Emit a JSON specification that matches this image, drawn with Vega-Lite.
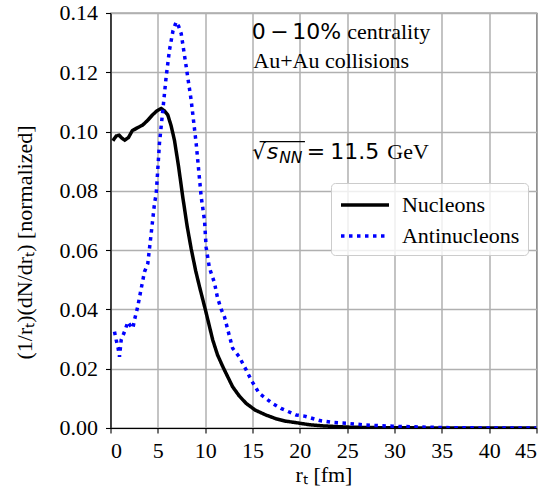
{
  "$schema": "https://vega.github.io/schema/vega-lite/v6.json",
  "width": 426,
  "height": 415,
  "autosize": {"type": "none"},
  "padding": {"left": 110.5, "top": 13, "right": 15.5, "bottom": 62.7},
  "config": {
    "font": "Liberation Serif",
    "view": {"stroke": "black", "strokeWidth": 1.2},
    "axis": {
      "labelFont": "Liberation Serif",
      "labelFontSize": 22,
      "labelColor": "black",
      "titleFont": "Liberation Serif",
      "titleFontSize": 22,
      "titleFontWeight": "normal",
      "titleColor": "black",
      "grid": true,
      "gridColor": "#b0b0b0",
      "gridWidth": 1.5,
      "domainColor": "black",
      "domainWidth": 1.2,
      "tickColor": "black",
      "tickSize": 5,
      "tickWidth": 1.1
    },
    "legend": {
      "labelFont": "Liberation Serif",
      "labelFontSize": 22,
      "labelColor": "black"
    }
  },
  "data": {
    "values": [
      {"r": 0.25, "v": 0.0969, "s": "Nucleons"},
      {"r": 0.6, "v": 0.0985, "s": "Nucleons"},
      {"r": 0.9, "v": 0.0988, "s": "Nucleons"},
      {"r": 1.2, "v": 0.0978, "s": "Nucleons"},
      {"r": 1.5, "v": 0.0971, "s": "Nucleons"},
      {"r": 1.9, "v": 0.098, "s": "Nucleons"},
      {"r": 2.3, "v": 0.1003, "s": "Nucleons"},
      {"r": 2.8, "v": 0.1012, "s": "Nucleons"},
      {"r": 3.4, "v": 0.1022, "s": "Nucleons"},
      {"r": 3.9, "v": 0.1037, "s": "Nucleons"},
      {"r": 4.4, "v": 0.1055, "s": "Nucleons"},
      {"r": 4.9, "v": 0.107, "s": "Nucleons"},
      {"r": 5.35, "v": 0.1078, "s": "Nucleons"},
      {"r": 5.7, "v": 0.107, "s": "Nucleons"},
      {"r": 6.05, "v": 0.1056, "s": "Nucleons"},
      {"r": 6.4, "v": 0.102, "s": "Nucleons"},
      {"r": 6.76, "v": 0.097, "s": "Nucleons"},
      {"r": 7.2, "v": 0.088, "s": "Nucleons"},
      {"r": 7.63, "v": 0.078, "s": "Nucleons"},
      {"r": 8.1, "v": 0.068, "s": "Nucleons"},
      {"r": 8.52, "v": 0.0605, "s": "Nucleons"},
      {"r": 9.0, "v": 0.053, "s": "Nucleons"},
      {"r": 9.4, "v": 0.0477, "s": "Nucleons"},
      {"r": 10.03, "v": 0.0398, "s": "Nucleons"},
      {"r": 10.8, "v": 0.0297, "s": "Nucleons"},
      {"r": 11.3, "v": 0.0247, "s": "Nucleons"},
      {"r": 11.86, "v": 0.0207, "s": "Nucleons"},
      {"r": 12.9, "v": 0.0139, "s": "Nucleons"},
      {"r": 13.6, "v": 0.0108, "s": "Nucleons"},
      {"r": 14.33, "v": 0.0083, "s": "Nucleons"},
      {"r": 15.3, "v": 0.006, "s": "Nucleons"},
      {"r": 16.4, "v": 0.0044, "s": "Nucleons"},
      {"r": 17.5, "v": 0.0031, "s": "Nucleons"},
      {"r": 18.5, "v": 0.0023, "s": "Nucleons"},
      {"r": 19.6, "v": 0.0018, "s": "Nucleons"},
      {"r": 21, "v": 0.0011, "s": "Nucleons"},
      {"r": 22.5, "v": 0.0007, "s": "Nucleons"},
      {"r": 25, "v": 0.0003, "s": "Nucleons"},
      {"r": 28, "v": 0.00012, "s": "Nucleons"},
      {"r": 32, "v": 0.00004, "s": "Nucleons"},
      {"r": 36, "v": 0.00001, "s": "Nucleons"},
      {"r": 40, "v": 0, "s": "Nucleons"},
      {"r": 45, "v": 0, "s": "Nucleons"},
      {"r": 0.42, "v": 0.0325, "s": "Antinucleons"},
      {"r": 0.6, "v": 0.0297, "s": "Antinucleons"},
      {"r": 0.8, "v": 0.027, "s": "Antinucleons"},
      {"r": 0.95, "v": 0.024, "s": "Antinucleons"},
      {"r": 1.13, "v": 0.0297, "s": "Antinucleons"},
      {"r": 1.48, "v": 0.0325, "s": "Antinucleons"},
      {"r": 1.83, "v": 0.0358, "s": "Antinucleons"},
      {"r": 2.1, "v": 0.0345, "s": "Antinucleons"},
      {"r": 2.36, "v": 0.0336, "s": "Antinucleons"},
      {"r": 2.53, "v": 0.0364, "s": "Antinucleons"},
      {"r": 2.88, "v": 0.041, "s": "Antinucleons"},
      {"r": 3.24, "v": 0.047, "s": "Antinucleons"},
      {"r": 3.59, "v": 0.0527, "s": "Antinucleons"},
      {"r": 3.94, "v": 0.0555, "s": "Antinucleons"},
      {"r": 4.3, "v": 0.0657, "s": "Antinucleons"},
      {"r": 4.65, "v": 0.0758, "s": "Antinucleons"},
      {"r": 4.83, "v": 0.079, "s": "Antinucleons"},
      {"r": 5.17, "v": 0.096, "s": "Antinucleons"},
      {"r": 5.52, "v": 0.107, "s": "Antinucleons"},
      {"r": 5.88, "v": 0.1185, "s": "Antinucleons"},
      {"r": 6.23, "v": 0.1275, "s": "Antinucleons"},
      {"r": 6.6, "v": 0.134, "s": "Antinucleons"},
      {"r": 6.94, "v": 0.137, "s": "Antinucleons"},
      {"r": 7.2, "v": 0.1355, "s": "Antinucleons"},
      {"r": 7.47, "v": 0.133, "s": "Antinucleons"},
      {"r": 7.99, "v": 0.122, "s": "Antinucleons"},
      {"r": 8.52, "v": 0.1106, "s": "Antinucleons"},
      {"r": 9.05, "v": 0.096, "s": "Antinucleons"},
      {"r": 9.58, "v": 0.078, "s": "Antinucleons"},
      {"r": 9.93, "v": 0.07, "s": "Antinucleons"},
      {"r": 10.1, "v": 0.061, "s": "Antinucleons"},
      {"r": 10.45, "v": 0.054, "s": "Antinucleons"},
      {"r": 10.98, "v": 0.049, "s": "Antinucleons"},
      {"r": 11.3, "v": 0.044, "s": "Antinucleons"},
      {"r": 11.7, "v": 0.04, "s": "Antinucleons"},
      {"r": 12.04, "v": 0.0375, "s": "Antinucleons"},
      {"r": 12.4, "v": 0.033, "s": "Antinucleons"},
      {"r": 12.9, "v": 0.0269, "s": "Antinucleons"},
      {"r": 13.6, "v": 0.024, "s": "Antinucleons"},
      {"r": 14.33, "v": 0.0196, "s": "Antinucleons"},
      {"r": 14.86, "v": 0.0162, "s": "Antinucleons"},
      {"r": 15.7, "v": 0.0117, "s": "Antinucleons"},
      {"r": 17.1, "v": 0.0083, "s": "Antinucleons"},
      {"r": 18.0, "v": 0.0066, "s": "Antinucleons"},
      {"r": 19.6, "v": 0.0044, "s": "Antinucleons"},
      {"r": 20.5, "v": 0.004, "s": "Antinucleons"},
      {"r": 22.1, "v": 0.0025, "s": "Antinucleons"},
      {"r": 23.4, "v": 0.0019, "s": "Antinucleons"},
      {"r": 24.9, "v": 0.0016, "s": "Antinucleons"},
      {"r": 27, "v": 0.001, "s": "Antinucleons"},
      {"r": 29.8, "v": 0.0006, "s": "Antinucleons"},
      {"r": 33, "v": 0.0003, "s": "Antinucleons"},
      {"r": 36, "v": 0.0001, "s": "Antinucleons"},
      {"r": 40, "v": 0, "s": "Antinucleons"},
      {"r": 45, "v": 0, "s": "Antinucleons"}
    ]
  },
  "layer": [
    {
      "mark": {"type": "line", "strokeWidth": 3.5, "strokeCap": "butt", "clip": true},
      "encoding": {
        "x": {
          "field": "r", "type": "quantitative",
          "scale": {"domain": [0, 45], "nice": false},
          "axis": {"values": [0, 5, 10, 15, 20, 25, 30, 35, 40, 45], "title": "rₜ [fm]", "labelPadding": 8, "titlePadding": 3}
        },
        "y": {
          "field": "v", "type": "quantitative",
          "scale": {"domain": [0, 0.14], "nice": false},
          "axis": {"values": [0, 0.02, 0.04, 0.06, 0.08, 0.1, 0.12, 0.14], "format": ".2f", "title": "(1/rₜ)(dN/drₜ) [normalized]", "labelPadding": 8, "titlePadding": 23, "titleY": 229}
        },
        "color": {
          "field": "s", "type": "nominal",
          "scale": {"domain": ["Nucleons", "Antinucleons"], "range": ["black", "blue"]},
          "legend": {
            "title": null,
            "orient": "none",
            "legendX": 220.5,
            "legendY": 170,
            "symbolType": "M-1,0H3",
            "symbolSize": 576,
            "symbolStrokeWidth": 3.5,
            "labelOffset": 35,
            "padding": 8,
            "rowPadding": 6,
            "fillColor": "rgba(255,255,255,0.8)",
            "strokeColor": "#cccccc",
            "cornerRadius": 4
          }
        },
        "strokeDash": {
          "field": "s", "type": "nominal",
          "scale": {"domain": ["Nucleons", "Antinucleons"], "range": [[1, 0], [3.5, 4.5]]},
          "legend": {
            "title": null,
            "orient": "none",
            "legendX": 220.5,
            "legendY": 170,
            "symbolType": "M-1,0H3",
            "symbolSize": 576,
            "symbolStrokeWidth": 3.5,
            "labelOffset": 35,
            "padding": 8,
            "rowPadding": 6,
            "fillColor": "rgba(255,255,255,0.8)",
            "strokeColor": "#cccccc",
            "cornerRadius": 4
          }
        }
      }
    },
    {
      "data": {"values": [{}]},
      "mark": {"type": "text", "text": "0", "font": "DejaVu Sans", "fontSize": 22, "align": "left", "baseline": "alphabetic", "dx": -1.5},
      "encoding": {"x": {"datum": 15.08}, "y": {"datum": 0.1312}}
    },
    {
      "data": {"values": [{}]},
      "mark": {"type": "text", "text": "−", "font": "DejaVu Sans", "fontSize": 22, "align": "left", "baseline": "alphabetic", "dx": 17},
      "encoding": {"x": {"datum": 15.08}, "y": {"datum": 0.1312}}
    },
    {
      "data": {"values": [{}]},
      "mark": {"type": "text", "text": "10%", "font": "DejaVu Sans", "fontSize": 22, "align": "left", "baseline": "alphabetic", "dx": 39},
      "encoding": {"x": {"datum": 15.08}, "y": {"datum": 0.1312}}
    },
    {
      "data": {"values": [{}]},
      "mark": {"type": "text", "text": "centrality", "font": "Liberation Serif", "fontSize": 22, "align": "left", "baseline": "alphabetic", "dx": 94},
      "encoding": {"x": {"datum": 15.08}, "y": {"datum": 0.1312}}
    },
    {
      "data": {"values": [{}]},
      "mark": {"type": "text", "text": "Au+Au collisions", "font": "Liberation Serif", "fontSize": 22, "align": "left", "baseline": "alphabetic"},
      "encoding": {"x": {"datum": 15.08}, "y": {"datum": 0.1214}}
    },
    {
      "data": {"values": [{}]},
      "mark": {"type": "text", "text": "√", "font": "DejaVu Sans", "fontSize": 21, "align": "left", "baseline": "alphabetic", "dx": -1},
      "encoding": {"x": {"datum": 15.08}, "y": {"datum": 0.0907}}
    },
    {
      "data": {"values": [{}]},
      "mark": {"type": "rule", "strokeWidth": 1.2, "color": "black"},
      "encoding": {"x": {"datum": 15.75}, "x2": {"datum": 20.54}, "y": {"datum": 0.0966}}
    },
    {
      "data": {"values": [{}]},
      "mark": {"type": "text", "text": "s", "font": "DejaVu Sans", "fontStyle": "italic", "fontSize": 22, "align": "left", "baseline": "alphabetic", "dx": 13.5},
      "encoding": {"x": {"datum": 15.08}, "y": {"datum": 0.0907}}
    },
    {
      "data": {"values": [{}]},
      "mark": {"type": "text", "text": "NN", "font": "DejaVu Sans", "fontStyle": "italic", "fontSize": 15.5, "align": "left", "baseline": "alphabetic", "dx": 26, "dy": 4},
      "encoding": {"x": {"datum": 15.08}, "y": {"datum": 0.0907}}
    },
    {
      "data": {"values": [{}]},
      "mark": {"type": "text", "text": "=", "font": "DejaVu Sans", "fontSize": 22, "align": "left", "baseline": "alphabetic", "dx": 53.5},
      "encoding": {"x": {"datum": 15.08}, "y": {"datum": 0.0907}}
    },
    {
      "data": {"values": [{}]},
      "mark": {"type": "text", "text": "11.5", "font": "DejaVu Sans", "fontSize": 22, "align": "left", "baseline": "alphabetic", "dx": 77},
      "encoding": {"x": {"datum": 15.08}, "y": {"datum": 0.0907}}
    },
    {
      "data": {"values": [{}]},
      "mark": {"type": "text", "text": "GeV", "font": "Liberation Serif", "fontSize": 22, "align": "left", "baseline": "alphabetic", "dx": 134},
      "encoding": {"x": {"datum": 15.08}, "y": {"datum": 0.0907}}
    }
  ]
}
